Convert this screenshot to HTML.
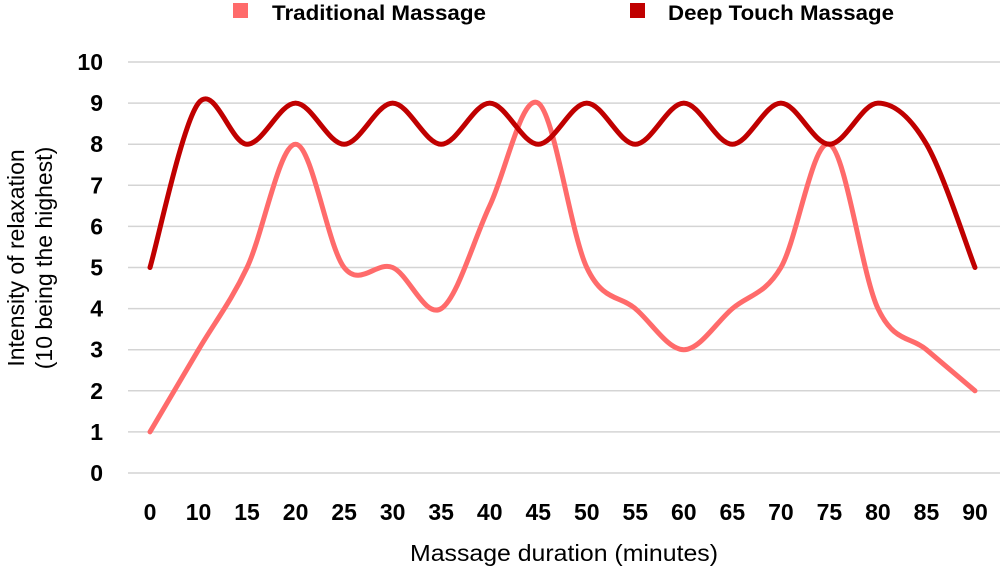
<!DOCTYPE html>
<html><head><meta charset="utf-8"><style>
body{margin:0;background:#fff;}
svg{display:block;font-family:"Liberation Sans",Arial,sans-serif;}
</style></head><body>
<svg id="chart" width="1000" height="570">
  <g id="grid"></g>
  <g id="yt"></g>
  <g id="xt"></g>
  <g id="lines"></g>
  <g>
    <rect x="233" y="3" width="15" height="15" fill="#ff6b6b"/>
    <text x="272" y="20" font-size="21" font-weight="bold" fill="#000" textLength="214" lengthAdjust="spacingAndGlyphs">Traditional Massage</text>
    <rect x="630" y="3" width="15" height="15" fill="#c00000"/>
    <text x="668" y="20" font-size="21" font-weight="bold" fill="#000" textLength="226" lengthAdjust="spacingAndGlyphs">Deep Touch Massage</text>
  </g>
  <text x="410" y="561" font-size="23" fill="#000" textLength="308" lengthAdjust="spacingAndGlyphs">Massage duration (minutes)</text>
  <text transform="translate(24,258) rotate(-90)" font-size="23" text-anchor="middle" fill="#000"><tspan x="0" y="0">Intensity of relaxation</tspan><tspan x="0" y="28">(10 being the highest)</tspan></text>
</svg>
<script>
const categories = ["0","10","15","20","25","30","35","40","45","50","55","60","65","70","75","80","85","90"];
const trad = [1,3,5,8,5,5,4,6.5,9,5,4,3,4,5,8,4,3,2];
const deep = [5,9,8,9,8,9,8,9,8,9,8,9,8,9,8,9,8,5];
const yTicks = [0,1,2,3,4,5,6,7,8,9,10];

const NS = "http://www.w3.org/2000/svg";
const x0 = 150, x1 = 975, yBase = 473, yTop = 62;
function xPos(i){ return x0 + (x1 - x0) * i / (categories.length - 1); }
function yPos(v){ return yBase - (yBase - yTop) * v / 10; }

const grid = document.getElementById('grid');
const yt = document.getElementById('yt');
yTicks.forEach(t => {
  const l = document.createElementNS(NS,'line');
  l.setAttribute('x1',128); l.setAttribute('x2',1000);
  l.setAttribute('y1',yPos(t)); l.setAttribute('y2',yPos(t));
  l.setAttribute('stroke','#d4d4d4'); l.setAttribute('stroke-width','1.5');
  
  
  grid.appendChild(l);
  const tx = document.createElementNS(NS,'text');
  tx.setAttribute('x',103); tx.setAttribute('y',yPos(t)+8);
  tx.setAttribute('text-anchor','end'); tx.setAttribute('font-size','23'); tx.setAttribute('font-weight','bold');
  tx.textContent = t;
  
  
  yt.appendChild(tx);
});
const xt = document.getElementById('xt');
categories.forEach((c,i) => {
  const tx = document.createElementNS(NS,'text');
  tx.setAttribute('x',xPos(i)); tx.setAttribute('y',520);
  tx.setAttribute('text-anchor','middle'); tx.setAttribute('font-size','23'); tx.setAttribute('font-weight','bold');
  tx.textContent = c;
  
  
  xt.appendChild(tx);
});
function smoothPath(vals){
  const p = vals.map((v,i)=>[xPos(i), yPos(v)]);
  let d = `M${p[0][0]},${p[0][1]}`;
  const k = 1/6;
  for(let i=0;i<p.length-1;i++){
    const a = p[i-1]||p[i], b=p[i], c=p[i+1], e=p[i+2]||c;
    const c1 = [b[0]+(c[0]-a[0])*k, b[1]+(c[1]-a[1])*k];
    const c2 = [c[0]-(e[0]-b[0])*k, c[1]-(e[1]-b[1])*k];
    d += ` C${c1[0]},${c1[1]} ${c2[0]},${c2[1]} ${c[0]},${c[1]}`;
  }
  return d;
}
const lines = document.getElementById('lines');
[[trad,'#ff6b6b','traditional-massage-line'],[deep,'#c00000','deep-touch-massage-line']].forEach(s=>{
  const path = document.createElementNS(NS,'path');
  path.setAttribute('d', smoothPath(s[0]));
  path.setAttribute('fill','none'); path.setAttribute('stroke',s[1]);
  path.setAttribute('stroke-width','5'); path.setAttribute('stroke-linecap','round'); path.setAttribute('stroke-linejoin','round');
  
  
  lines.appendChild(path);
});
</script>
</body></html>
